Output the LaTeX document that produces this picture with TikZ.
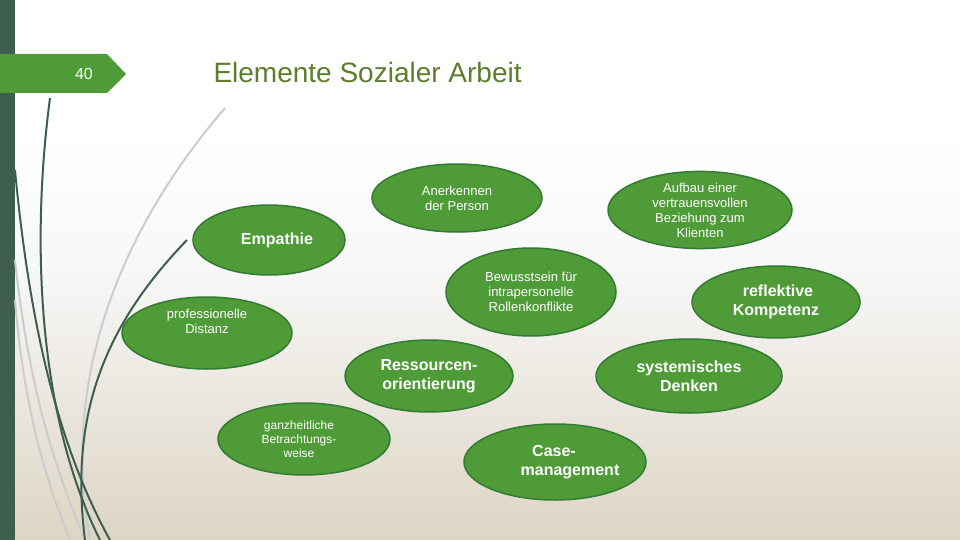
\documentclass[tikz,border=0pt]{standalone}
\usepackage{fontspec}
\setmainfont{Liberation Sans}
\begin{document}
\begin{tikzpicture}[x=1pt,y=-1pt,
  el/.style={ellipse,draw=green!35!black!80,line width=1.5pt,fill=eg,text=white,align=center,inner sep=0pt,font=\fontsize{13}{15}\selectfont},
  bold/.style={font=\fontsize{16}{19}\selectfont\bfseries},
  dk/.style={draw=darkbar,line width=2pt},
  lt/.style={draw=black!20,line width=2pt}]
\usetikzlibrary{shapes.geometric}
\definecolor{eg}{HTML}{4F9B37}
\definecolor{darkbar}{HTML}{3E5E50}
\definecolor{titlec}{HTML}{5B7F2A}
\path[use as bounding box] (0,0) rectangle (960,540);
\shade[top color=white,bottom color=black!3,middle color=white] (0,0) rectangle (960,270);
\shade[top color=black!3,bottom color={rgb,255:red,221;green,213;blue,196}] (0,270) rectangle (960,540);
\fill[darkbar] (0,0) rectangle (15,540);
% curves
\draw[lt] (225,108) .. controls (120,230) and (60,380) .. (90,540);
\draw[lt] (15,260) .. controls (30,400) and (60,480) .. (85,540);
\draw[lt] (15,300) .. controls (25,420) and (50,490) .. (70,540);
\draw[dk] (50,98) .. controls (30,250) and (40,420) .. (100,540);
\draw[dk] (15,170) .. controls (30,330) and (60,450) .. (110,540);
\draw[dk] (187,240) .. controls (100,330) and (70,420) .. (85,540);
\fill[eg] (0,54) -- (107,54) -- (126,74) -- (107,93) -- (0,93) -- cycle;
\node[text=white,font=\fontsize{16}{18}\selectfont] (num) at (84,74) {40};
\node[text=titlec,font=\fontsize{28}{32}\selectfont,anchor=west] (title) at (210,72) {Elemente Sozialer Arbeit};
\node[el,minimum width=170,minimum height=68] (a) at (457,198) {Anerkennen\\der Person};
\node[el,minimum width=184,minimum height=74] (b) at (700,210) {Aufbau einer\\vertrauensvollen\\Beziehung zum\\Klienten};
\node[el,bold,minimum width=152,minimum height=70] (c) at (269,240) {\hspace{16pt}Empathie};
\node[el,minimum width=170,minimum height=88] (d) at (531,292) {Bewusstsein für\\intrapersonelle\\Rollenkonflikte};
\node[el,bold,minimum width=168,minimum height=72] (e) at (776,302) {\hspace{4pt}reflektive\\Kompetenz};
\node[el,minimum width=170,minimum height=72] (f) at (207,333) {professionelle\\Distanz\\[8pt]};
\node[el,bold,minimum width=168,minimum height=72] (g) at (429,376) {Ressourcen-\\orientierung};
\node[el,bold,minimum width=186,minimum height=74] (h) at (689,376) {systemisches\\Denken};
\node[el,minimum width=172,minimum height=72,font=\fontsize{12}{14}\selectfont] (i) at (304,439) {\hspace{-10pt}ganzheitliche\\\hspace{-10pt}Betrachtungs-\\\hspace{-10pt}weise};
\node[el,bold,minimum width=170,minimum height=76] (j) at (555,462) {\hspace{-2pt}Case-\\\hspace{30pt}management};
\end{tikzpicture}
\end{document}
